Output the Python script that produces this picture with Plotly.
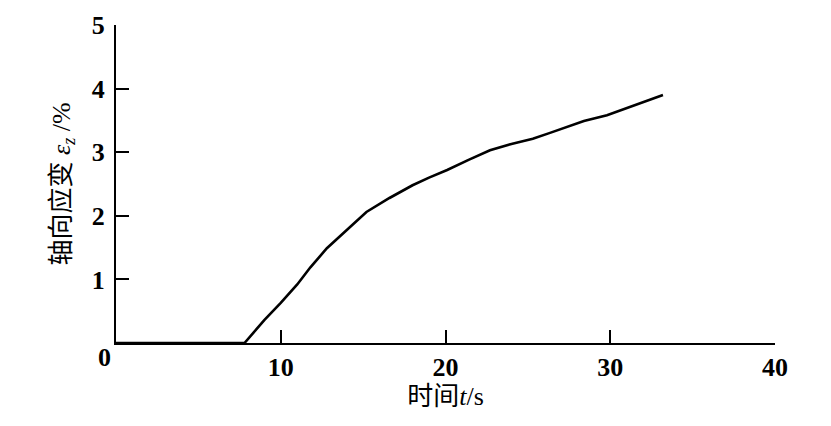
import plotly.graph_objects as go

time_s = [0, 7.8, 9.0, 10.0, 11.0, 11.8, 12.8, 14.0, 15.2, 16.6, 18.0, 19.0, 20.1, 21.4,
          22.7, 24.0, 25.3, 26.3, 27.4, 28.4, 29.8, 31.0, 32.1, 33.2]
strain_pct = [0, 0, 0.36, 0.63, 0.92, 1.19, 1.49, 1.78, 2.06, 2.28, 2.48, 2.60, 2.72, 2.88,
              3.03, 3.13, 3.21, 3.30, 3.40, 3.49, 3.58, 3.69, 3.80, 3.90]

x_ticks = [10, 20, 30, 40]
y_ticks = [1, 2, 3, 4, 5]

FONT = "Liberation Serif, Times New Roman, Noto Sans CJK SC, serif"
TICKFONT = dict(family=FONT, size=26, weight="bold")
TITLEFONT = dict(family=FONT, size=26)

fig = go.Figure()
fig.add_trace(go.Scatter(x=time_s, y=strain_pct, mode="lines",
                         line=dict(color="black", width=2.6), showlegend=False,
                         cliponaxis=False))

fig.update_layout(
    width=831, height=426,
    margin=dict(l=108, r=64, t=17, b=91),
    paper_bgcolor="white", plot_bgcolor="white",
    font=dict(family=FONT, color="black", size=23),
    xaxis=dict(range=[0, 40], tickvals=x_ticks, ticks="inside", ticklen=13, tickwidth=2,
               tickcolor="black", showline=True, linecolor="black", linewidth=2,
               showgrid=False, zeroline=False, tickfont=TICKFONT, ticklabelstandoff=0,
               automargin=False,
               title=dict(text="时间<i>t</i>/s", font=TITLEFONT, standoff=0)),
    yaxis=dict(range=[0, 5], tickvals=y_ticks, ticks="inside", ticklen=13, tickwidth=2,
               tickcolor="black", showline=True, linecolor="black", linewidth=2,
               showgrid=False, zeroline=False, tickfont=TICKFONT, ticklabelstandoff=4,
               automargin=False,
               title=dict(text="轴向应变 <i>ε<sub>z</sub></i> /%", font=TITLEFONT, standoff=14)),
    annotations=[dict(x=0, y=0, xref="x", yref="y", text="0", showarrow=False,
                      xanchor="center", yanchor="middle", xshift=-12, yshift=-14,
                      font=TICKFONT)],
)

fig.write_html("out.html")
